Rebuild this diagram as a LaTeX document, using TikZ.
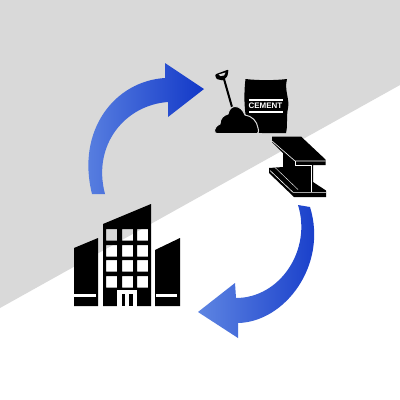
\documentclass[tikz,border=0pt]{standalone}
\usepackage{xcolor}
\usepackage{fontspec}
\setmainfont{Liberation Sans}
\definecolor{backgrey}{RGB}{217,217,217}
\definecolor{arrowlight}{RGB}{94,133,226}
\definecolor{arrowdark}{RGB}{18,56,200}
\begin{document}
\begin{tikzpicture}[x=1pt,y=-1pt,
    flowarrow/.style={left color=arrowlight,right color=arrowdark,draw=none},
    icon/.style={fill=black,draw=none},
    cutline/.style={draw=white,line width=0.6pt},
    bagtext/.style={text=white,font=\fontsize{8}{8}\selectfont\bfseries,inner sep=0pt}]
    \useasboundingbox (0,0) rectangle (400,400);
    \fill[white] (0,0) rectangle (400,400);
    \fill[backgrey] (0,0) -- (400,0) -- (400,85) -- (0,308) -- cycle;
    \shade[flowarrow] (92,194) .. controls (76,130) and (115,81) .. (165,78) -- (165,63) -- (204,89) -- (168,117) -- (168,102)
      .. controls (125,105) and (92,145) .. (105,194) -- cycle;
    \shade[flowarrow] (298,205) .. controls (312,250) and (280,298) .. (236,298) -- (235,283) -- (198,312) -- (238,338) -- (238,323)
      .. controls (285,322) and (328,265) .. (310,207) -- cycle;
    \draw[line width=2pt] (224,79) -- (232,107);
    \fill[icon,rounded corners=1pt] (215,74.5) -- (228.5,69.5) -- (227.5,76) -- (223,80.5) -- (216.5,79) -- cycle;
    \fill[backgrey] (218.5,74.5) -- (225.5,72.5) -- (224,75.5) -- (220.5,76) -- cycle;
    \fill[icon] (245.5,79) .. controls (258,80.5) and (275,80.5) .. (287,79) .. controls (284,90) and (290,100) .. (288,108)
      .. controls (286,118) and (288,125) .. (286,133) -- (250,133)
      .. controls (245,120) and (243,100) .. (245.5,79) -- cycle;
    \draw[icon,draw=backgrey,line width=1pt] (218,134) .. controls (213,134) and (213,127) .. (220,124)
      .. controls (220,118) and (224,115) .. (228,114) .. controls (229,109) and (232,106.5) .. (235,106.5)
      .. controls (240,106.5) and (243,110) .. (245,115) .. controls (252,116) and (257,121) .. (258,128)
      .. controls (259,131) and (259,134) .. (255,134) -- cycle;
    \fill[backgrey] (212,133) rectangle (262,135);
    \draw[cutline,line width=1.2pt] (249,100) -- (283,100);
    \draw[cutline,line width=1.2pt] (249,112) -- (283,112);
    \node[bagtext] (cement) at (265.5,106) {CEMENT};
    \fill[icon] (272,136.5) -- (301,136.5) -- (325.5,159.5) -- (325.5,165) -- (313,165) -- (313,182) -- (326,190.5)
      -- (326,197) -- (294,197) -- (269,173) -- (269,168) -- (283,167) -- (283,153) -- (272,142) -- cycle;
    \draw[cutline] (272,141) -- (295,161) -- (325.5,161);
    \draw[cutline] (295,161) -- (295,165.5) -- (311,165.5) -- (311,192.3);
    \draw[cutline] (270,170.5) -- (293,192.3) -- (326,192.3);
    \draw[cutline,line width=0.4pt] (275.5,168) -- (298,189.5);
    \fill[icon] (74,248) -- (98,238) -- (98,306) -- (74,306) -- cycle;
    \fill[white] (74,294) rectangle (96,297);
    \fill[icon] (155,250) -- (180,238) -- (180,306) -- (155,306) -- cycle;
    \fill[white] (156,294) rectangle (177,297);
    \fill[icon,even odd rule] (103,224) -- (151,204) -- (151,306) -- (137,306) -- (137,290) -- (117,290) -- (117,306) -- (103,306) -- cycle
      foreach \wy in {229,245,260,276} {foreach \wx in {106,122,137} {
        (\wx,\wy) rectangle ++(11,11.5)}};
    \fill[white] (117,290) rectangle (137,306);
    \fill[icon] (122,294) rectangle (125,306);
    \fill[icon] (129,294) rectangle (133,306);
  \end{tikzpicture}
\end{document}
